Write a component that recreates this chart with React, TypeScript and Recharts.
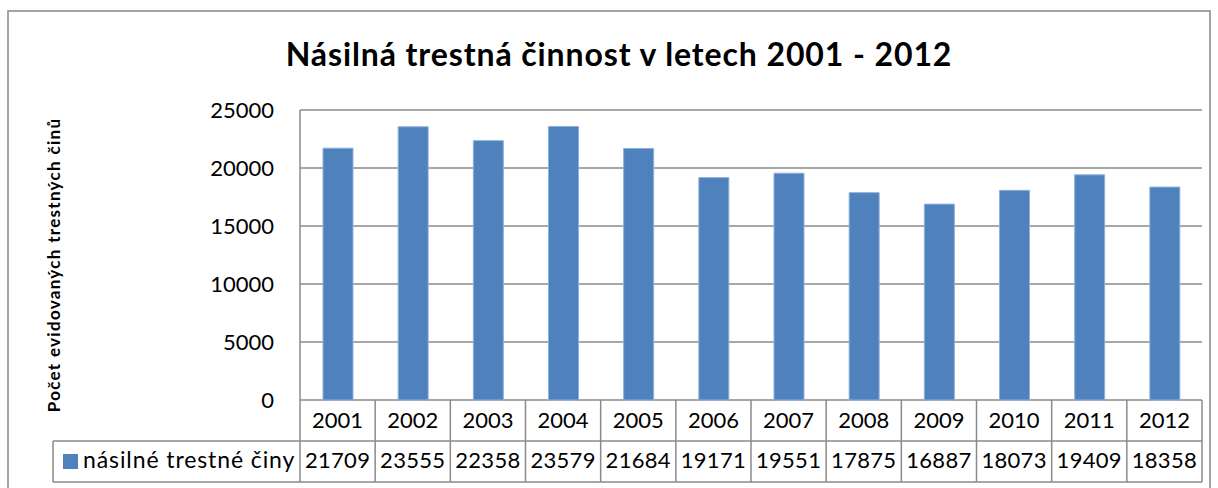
import React from 'react';
import { BarChart, Bar, XAxis, YAxis, CartesianGrid } from 'recharts';

const YEARS = ['2001', '2002', '2003', '2004', '2005', '2006', '2007', '2008', '2009', '2010', '2011', '2012'];
const VALUES = [21709, 23555, 22358, 23579, 21684, 19171, 19551, 17875, 16887, 18073, 19409, 18358];
const Y_TICKS = [0, 5000, 10000, 15000, 20000, 25000];
const SERIES_NAME = 'násilné trestné činy';
const TITLE = 'Násilná trestná činnost v letech 2001 - 2012';
const Y_LABEL = 'Počet evidovaných trestných činů';

const data = YEARS.map((y, i) => ({ year: y, value: VALUES[i] }));

const W = 1218;
const H = 488;
const M_LEFT = 240;
const Y_W = 60;
const M_RIGHT = 16;
const X_H = 82;
const PLOT_L = M_LEFT + Y_W;
const PLOT_R = W - M_RIGHT;
const COL_W = (PLOT_R - PLOT_L) / YEARS.length;
const FONT = 'Lato, "Open Sans", sans-serif';
const GRID = '#8a8a8a';
const BLUE = '#4F81BD';
const LEGEND_L = 53;

const TableTick = (props: any) => {
  const { x, y, payload } = props;
  const i = payload.index;
  const half = COL_W / 2;
  const r1 = y + 41;
  const r2 = y + X_H;
  return (
    <g>
      <line x1={x - half} y1={y} x2={x - half} y2={r2} stroke={GRID} strokeWidth={1.5} />
      {i === YEARS.length - 1 && (
        <line x1={x + half} y1={y} x2={x + half} y2={r2} stroke={GRID} strokeWidth={1.5} />
      )}
      <line x1={x - half} y1={r1} x2={x + half} y2={r1} stroke={GRID} strokeWidth={1.5} />
      <line x1={x - half} y1={r2} x2={x + half} y2={r2} stroke={GRID} strokeWidth={1.5} />
      <text x={x} y={y + 28} textAnchor="middle" fontSize={22} fill="#000" fontFamily={FONT}>
        {YEARS[i]}
      </text>
      <text x={x} y={y + 68} textAnchor="middle" fontSize={22} letterSpacing={0.3} fill="#000" fontFamily={FONT}>
        {VALUES[i]}
      </text>
      {i === 0 && (
        <g>
          <line x1={LEGEND_L} y1={r1} x2={x - half} y2={r1} stroke={GRID} strokeWidth={1.5} />
          <line x1={LEGEND_L} y1={r2} x2={x - half} y2={r2} stroke={GRID} strokeWidth={1.5} />
          <line x1={LEGEND_L} y1={r1} x2={LEGEND_L} y2={r2} stroke={GRID} strokeWidth={1.5} />
          <rect x={63} y={r1 + 13} width={15} height={15} fill={BLUE} />
          <text x={83} y={y + 68} fontSize={23} letterSpacing={0.9} fill="#000" fontFamily={FONT}>
            {SERIES_NAME}
          </text>
        </g>
      )}
    </g>
  );
};

export default function App() {
  return (
    <div style={{ position: 'absolute', left: 0, top: 0, width: W, height: H, background: '#fff', fontFamily: FONT }}>
      <BarChart
        width={W}
        height={H}
        data={data}
        margin={{ top: 110, right: M_RIGHT, left: M_LEFT, bottom: 6 }}
        barCategoryGap={0}
      >
        <CartesianGrid vertical={false} stroke={GRID} strokeWidth={1.5} />
        <YAxis
          width={Y_W}
          domain={[0, 25000]}
          ticks={Y_TICKS}
          interval={0}
          tickLine={false}
          tickSize={0}
          tickMargin={26}
          axisLine={{ stroke: GRID, strokeWidth: 1.5 }}
          tick={{ fontSize: 22, fill: '#000', fontFamily: FONT }}
        />
        <XAxis
          dataKey="year"
          height={X_H}
          interval={0}
          tickLine={false}
          axisLine={false}
          tickSize={0}
          tickMargin={0}
          tick={<TableTick />}
        />
        <Bar dataKey="value" fill={BLUE} barSize={30} stroke="#8fb0dc" strokeWidth={1} isAnimationActive={false} />
      </BarChart>
      <svg width={W} height={H} style={{ position: 'absolute', left: 0, top: 0, pointerEvents: 'none' }}>
        <rect x={8} y={11} width={1202} height={520} fill="none" stroke="#868686" strokeWidth={1.5} />
        <text x={619} y={66} textAnchor="middle" fontSize={32} letterSpacing={0.9} fontWeight="bold" fill="#000" fontFamily={FONT}>
          {TITLE}
        </text>
        <text
          x={60}
          y={265}
          textAnchor="middle"
          fontSize={17}
          letterSpacing={1.3}
          fontWeight="bold"
          fill="#000"
          fontFamily={FONT}
          transform="rotate(-90, 60, 265)"
        >
          {Y_LABEL}
        </text>
      </svg>
    </div>
  );
}
